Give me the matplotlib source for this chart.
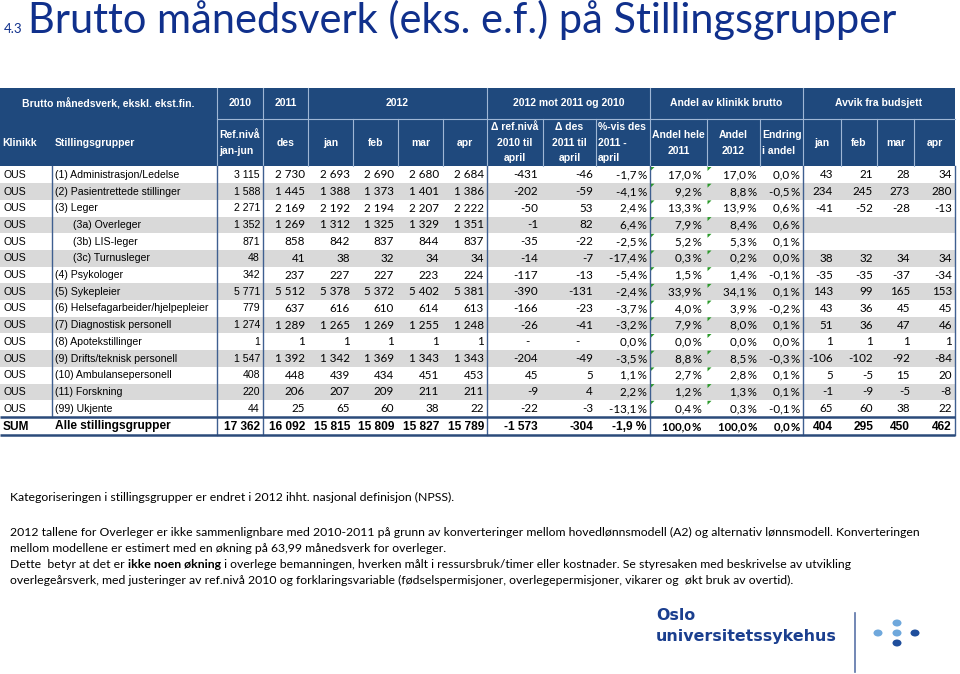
import matplotlib
matplotlib.use("Agg")
import matplotlib.pyplot as plt
from matplotlib.patches import Polygon, Ellipse

# ---------------- data ----------------
klinikk = ["OUS"] * 15
groups = ["(1) Administrasjon/Ledelse", "(2) Pasientrettede stillinger", "(3) Leger",
          "(3a) Overleger", "(3b) LIS-leger", "(3c) Turnusleger", "(4) Psykologer",
          "(5) Sykepleier", "(6) Helsefagarbeider/hjelpepleier", "(7) Diagnostisk personell",
          "(8) Apotekstillinger", "(9) Drifts/teknisk personell", "(10) Ambulansepersonell",
          "(11) Forskning", "(99) Ukjente"]
indented = [False, False, False, True, True, True, False, False, False, False,
            False, False, False, False, False]
ref2010 = [3115, 1588, 2271, 1352, 871, 48, 342, 5771, 779, 1274, 1, 1547, 408, 220, 44]
des2011 = [2730, 1445, 2169, 1269, 858, 41, 237, 5512, 637, 1289, 1, 1392, 448, 206, 25]
jan2012 = [2693, 1388, 2192, 1312, 842, 38, 227, 5378, 616, 1265, 1, 1342, 439, 207, 65]
feb2012 = [2690, 1373, 2194, 1325, 837, 32, 227, 5372, 610, 1269, 1, 1369, 434, 209, 60]
mar2012 = [2680, 1401, 2207, 1329, 844, 34, 223, 5402, 614, 1255, 1, 1343, 451, 211, 38]
apr2012 = [2684, 1386, 2222, 1351, 837, 34, 224, 5381, 613, 1248, 1, 1343, 453, 211, 22]
d_ref = [-431, -202, -50, -1, -35, -14, -117, -390, -166, -26, 0, -204, 45, -9, -22]
d_des = [-46, -59, 53, 82, -22, -7, -13, -131, -23, -41, 0, -49, 5, 4, -3]
pct_des = [-1.7, -4.1, 2.4, 6.4, -2.5, -17.4, -5.4, -2.4, -3.7, -3.2, 0.0, -3.5, 1.1, 2.2, -13.1]
andel2011 = [17.0, 9.2, 13.3, 7.9, 5.2, 0.3, 1.5, 33.9, 4.0, 7.9, 0.0, 8.8, 2.7, 1.2, 0.4]
andel2012 = [17.0, 8.8, 13.9, 8.4, 5.3, 0.2, 1.4, 34.1, 3.9, 8.0, 0.0, 8.5, 2.8, 1.3, 0.3]
endring = [0.0, -0.5, 0.6, 0.6, 0.1, 0.0, -0.1, 0.1, -0.2, 0.1, 0.0, -0.3, 0.1, 0.1, -0.1]
bud_jan = [43, 234, -41, None, None, 38, -35, 143, 43, 51, 1, -106, 5, -1, 65]
bud_feb = [21, 245, -52, None, None, 32, -35, 99, 36, 36, 1, -102, -5, -9, 60]
bud_mar = [28, 273, -28, None, None, 34, -37, 165, 45, 47, 1, -92, 15, -5, 38]
bud_apr = [34, 280, -13, None, None, 34, -34, 153, 45, 46, 1, -84, 20, -8, 22]

sum_label = ("SUM", "Alle stillingsgrupper")
sum_ints = [17362, 16092, 15815, 15809, 15827, 15789, -1573, -304]
sum_pct = [-1.9, 100.0, 100.0, 0.0]
sum_budget = [404, 295, 450, 462]

top_headers = ["Brutto månedsverk, ekskl. ekst.fin.", "2010", "2011", "2012",
               "2012 mot 2011 og 2010", "Andel av klinikk brutto", "Avvik fra budsjett"]
sub_headers = [["Ref.nivå", "jan-jun"], ["des"], ["jan"], ["feb"], ["mar"], ["apr"],
               ["Δ ref.nivå", "2010 til", "april"], ["Δ des", "2011 til", "april"],
               ["%-vis des", "2011 -", "april"], ["Andel hele", "2011"], ["Andel", "2012"],
               ["Endring", "i andel"], ["jan"], ["feb"], ["mar"], ["apr"]]

title_num = "4.3"
title = "Brutto månedsverk (eks. e.f.) på Stillingsgrupper"
notes = [
    "Kategoriseringen i stillingsgrupper er endret i 2012 ihht. nasjonal definisjon (NPSS).",
    "2012 tallene for Overleger er ikke sammenlignbare med 2010-2011 på grunn av konverteringer mellom hovedlønnsmodell (A2) og alternativ lønnsmodell. Konverteringen",
    "mellom modellene er estimert med en økning på 63,99 månedsverk for overleger.",
    ("Dette  betyr at det er ", "ikke noen økning",
     " i overlege bemanningen, hverken målt i ressursbruk/timer eller kostnader. Se styresaken med beskrivelse av utvikling"),
    "overlegeårsverk, med justeringer av ref.nivå 2010 og forklaringsvariable (fødselspermisjoner, overlegepermisjoner, vikarer og  økt bruk av overtid).",
]
logo_lines = ["Oslo", "universitetssykehus"]

# ---------------- style / layout ----------------
ARIAL = ["Liberation Sans", "DejaVu Sans"]
CALIB = ["Lato", "DejaVu Sans"]
LOGOF = ["DejaVu Sans"]
HEAD_BG = "#1f497d"
HEAD_LINE = "#9fb7d6"
GRID = "#3f5f90"
SHADE = "#d9d9d9"
TITLE_C = "#10308c"

W, H = 960, 674
fig = plt.figure(figsize=(W / 100, H / 100), dpi=100)
ax = fig.add_axes([0, 0, 1, 1])
ax.set_xlim(0, W)
ax.set_ylim(H, 0)
ax.axis("off")
renderer = fig.canvas.get_renderer()


def fit(txt, fam, width, weight="normal", base=10.0):
    t = ax.text(0, 0, txt, family=fam, fontsize=base, weight=weight)
    w = t.get_window_extent(renderer).width
    t.remove()
    return base * width / w


edges = [0, 52, 217, 263, 308, 353, 398, 443, 487, 543, 596, 650, 707, 760, 803, 841, 877, 914, 955]
TABLE_R = 955
H1_TOP, H1_BOT, H2_BOT = 88, 119, 166
ROW_TOP, ROW_H = 166.5, 16.7
n = len(groups)
SUM_TOP = ROW_TOP + n * ROW_H
SUM_BOT = 435
row_c = [ROW_TOP + (i + 0.5) * ROW_H for i in range(n)]
sum_c = (SUM_TOP + SUM_BOT) / 2 + 0.5

# ---------------- title ----------------
tsize = fit(title, CALIB, 870)
ax.text(28, 33, title, family=CALIB, fontsize=tsize, color=TITLE_C, va="baseline", ha="left")
ax.text(4, 33, title_num, family=CALIB, fontsize=9.5, color=TITLE_C, va="baseline", ha="left")

# ---------------- header ----------------
ax.barh([(H1_TOP + H2_BOT) / 2], [TABLE_R], left=0, height=H2_BOT - H1_TOP, color=HEAD_BG)
ax.plot([edges[2], TABLE_R], [H1_BOT, H1_BOT], color=HEAD_LINE, lw=0.8)
full_v = [217, 263, 308, 487, 650, 803]
for x in edges[2:-1]:
    y0 = H1_TOP if x in full_v else H1_BOT
    ax.plot([x, x], [y0, H2_BOT], color=HEAD_LINE, lw=0.8)

hfs = 7.5
top_spans = [(0, 217), (217, 263), (263, 308), (308, 487), (487, 650), (650, 803), (803, 955)]
for lab, (a, b) in zip(top_headers, top_spans):
    ax.text((a + b) / 2, (H1_TOP + H1_BOT) / 2, lab, family=ARIAL, fontsize=hfs, weight="bold",
            color="white", ha="center", va="center")
hmid = (H1_BOT + H2_BOT) / 2
ax.text(2, hmid, "Klinikk", family=ARIAL, fontsize=hfs, weight="bold", color="white", va="center")
ax.text(55, hmid, "Stillingsgrupper", family=ARIAL, fontsize=hfs, weight="bold", color="white", va="center")
left_aligned = {0, 8, 11}
for j, lines in enumerate(sub_headers):
    a, b = edges[j + 2], edges[j + 3]
    k = len(lines)
    step = 15.5 if k == 3 else 16
    for m, ln in enumerate(lines):
        y = hmid + (m - (k - 1) / 2) * step
        if j in left_aligned:
            ax.text(a + 2, y, ln, family=ARIAL, fontsize=hfs, weight="bold", color="white",
                    ha="left", va="center")
        else:
            ax.text((a + b) / 2, y, ln, family=ARIAL, fontsize=hfs, weight="bold", color="white",
                    ha="center", va="center")

# ---------------- body ----------------
shade_rows = [row_c[i] for i in range(n) if i % 2 == 1]
ax.barh(shade_rows, [TABLE_R] * len(shade_rows), left=0, height=ROW_H, color=SHADE)


def f_int(v, dash_zero=False):
    if v is None:
        return ""
    if v == 0 and dash_zero:
        return "-"
    s = f"{abs(v):,}".replace(",", " ")
    return ("-" if v < 0 else "") + s


def f_pct(v):
    s = f"{abs(v):.1f}".replace(".", ",")
    return ("-" if v < 0 else "") + s + "\u2009%"


rights = [260, 305, 350, 394, 439, 484, 538, 593, 647, 702, 757, 800, 833, 873, 910, 952]
dash_x = {6: 527, 7: 577}
cols = [
    ([f_int(v) for v in ref2010], ARIAL),
    ([f_int(v) for v in des2011], CALIB),
    ([f_int(v) for v in jan2012], CALIB),
    ([f_int(v) for v in feb2012], CALIB),
    ([f_int(v) for v in mar2012], CALIB),
    ([f_int(v) for v in apr2012], CALIB),
    ([f_int(v, True) for v in d_ref], CALIB),
    ([f_int(v, True) for v in d_des], CALIB),
    ([f_pct(v) for v in pct_des], CALIB),
    ([f_pct(v) for v in andel2011], CALIB),
    ([f_pct(v) for v in andel2012], CALIB),
    ([f_pct(v) for v in endring], CALIB),
    ([f_int(v) for v in bud_jan], CALIB),
    ([f_int(v) for v in bud_feb], CALIB),
    ([f_int(v) for v in bud_mar], CALIB),
    ([f_int(v) for v in bud_apr], CALIB),
]
afs, cfs = 7.6, 8.4
for i in range(n):
    y = row_c[i]
    ax.text(3, y, klinikk[i], family=ARIAL, fontsize=afs, va="center")
    ax.text(73 if indented[i] else 55, y, groups[i], family=ARIAL, fontsize=afs, va="center")
    for c, ((vals, fam), xr) in enumerate(zip(cols, rights)):
        fs = cfs if fam is CALIB else afs
        if vals[i] == "-":
            ax.text(dash_x[c], y, "-", family=fam, fontsize=fs, va="center", ha="center")
        else:
            ax.text(xr, y, vals[i], family=fam, fontsize=fs, va="center", ha="right")
    for xe in (650, 707):
        top = ROW_TOP + i * ROW_H
        ax.add_patch(Polygon([[xe + 0.5, top + 0.5], [xe + 4.5, top + 0.5], [xe + 0.5, top + 4.5]],
                             closed=True, color="#2a9a2a", lw=0))

# sum row
sfs = 8.6
ax.text(3, sum_c, sum_label[0], family=ARIAL, fontsize=sfs, weight="bold", va="center")
ax.text(55, sum_c, sum_label[1], family=ARIAL, fontsize=sfs, weight="bold", va="center")
for v, xr in zip(sum_ints, rights[:8]):
    ax.text(xr, sum_c, f_int(v), family=ARIAL, fontsize=sfs, weight="bold", va="center", ha="right")
ax.text(rights[8], sum_c, f_pct(sum_pct[0]).replace("\u2009", " "), family=ARIAL, fontsize=sfs,
        weight="bold", va="center", ha="right")
for v, xr in zip(sum_pct[1:], rights[9:12]):
    ax.text(xr, sum_c, f_pct(v), family=CALIB, fontsize=8.2, weight="bold", va="center", ha="right")
for v, xr in zip(sum_budget, rights[12:]):
    ax.text(xr, sum_c, f_int(v), family=ARIAL, fontsize=sfs, weight="bold", va="center", ha="right")

# grid lines
ax.plot([52, 52], [H2_BOT, SUM_TOP], color=GRID, lw=1.0)
for x in (217, 263, 487, 650, 803, 955):
    ax.plot([x, x], [H2_BOT, SUM_BOT], color=GRID, lw=1.0)
for y in (SUM_TOP, SUM_BOT):
    ax.plot([0, TABLE_R], [y, y], color="#2b4a7a", lw=1.8, solid_capstyle="butt")

# ---------------- notes ----------------
nfs = fit(notes[1], CALIB, 915)
note_y = [497, 532, 548, 564, 580]
for txt, y in zip(notes, note_y):
    if isinstance(txt, tuple):
        x = 10
        for k, seg in enumerate(txt):
            t = ax.text(x, y, seg, family=CALIB, fontsize=nfs, va="center", ha="left",
                        weight="bold" if k == 1 else "normal")
            x += t.get_window_extent(renderer).width
    else:
        ax.text(10, y, txt, family=CALIB, fontsize=nfs, va="center", ha="left")

# ---------------- logo ----------------
LOGO = "#1b3f8f"
lsz = fit(logo_lines[1], LOGOF, 180, weight="bold")
ax.text(656, 616, logo_lines[0], family=LOGOF, fontsize=lsz, weight="bold",
        color=LOGO, va="center", ha="left")
ax.text(656, 636, logo_lines[1], family=LOGOF, fontsize=lsz,
        weight="bold", color=LOGO, va="center", ha="left")
ax.plot([855, 855], [613, 672], color="#5a73a8", lw=1.2)
dots = [(897, 623, "#6fa8dc"), (878, 633, "#6fa8dc"), (897, 633, "#6fa8dc"),
        (915, 633, "#1f4e9c"), (897, 643, "#1f4e9c")]
for cx, cy, c in dots:
    ax.add_patch(Ellipse((cx, cy), 9, 7, color=c, lw=0))

fig.savefig("out.png", dpi=100)
